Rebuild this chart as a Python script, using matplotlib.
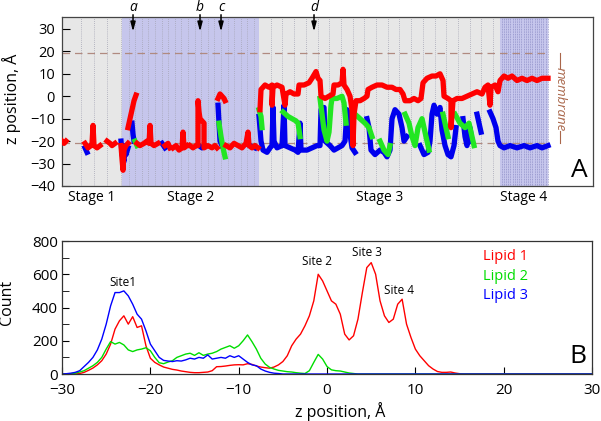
import numpy as np
import matplotlib
matplotlib.use("Agg")
from matplotlib import pyplot as plt
from matplotlib.ticker import MultipleLocator

plt.rcParams['font.family'] = ['Open Sans', 'DejaVu Sans']
nan = np.nan

# ---------------- panel A: z position vs. time (time in arbitrary frame units) ----
stage_names = ["Stage 1", "Stage 2", "Stage 3", "Stage 4"]
stage_edges = [0, 60, 197, 438, 486]
stage_shaded = [False, True, False, True]

events = ["a", "b", "c", "d"]
event_t = [71, 138, 159, 252]

membrane_top, membrane_bottom = 19.3, -21.0

red_t = [0, 2, 4, nan,
         23, 26, 29, 30, 31, 32, 35, 38, nan,
         45, 48, 50, 53, nan,
         59, 60, 61, 62, 64, 66, nan,
         66, 68, 70, 72, 74, nan,
         75, 78, 82, 85, 87, 88, 89, 92, 96, nan,
         103, 106, 108, nan,
         111, 114, 117, 120, 121, 122, 125, nan,
         128, 131, 134, 136, 136, 137, 138, 140, 142, 142, 146, 150, 153, 155, nan,
         156, 158, 160, 162, 163, nan,
         164, 168, 172, 176, 180, 184, 186, 187, 190, 193, 196, nan,
         198, 199, 203, 207, 210, 210, 211, 215, 220, 223, 224, 228, 232, 236, 237, 242,
         247, 250, 254, 256, 258, 259, 263, 267, 271, 272, 276, 280, 281, 282, 285, 288,
         290, 291, 292, 294, 298, 302, 305, 306, 310, 315, 320, 325, 330, 334, 338, 341,
         343, 348, 352, 356, 359, 361, 365, 370, 374, 378, 380, 381, 382, 386, 389, 389,
         391, 395, 400, 405, 410, 415, 420, 423, 426, 428, 429, 433, 436,
         438, 442, 446, 450, 455, 460, 465, 470, 475, 480, 486]
red_z = [-20, -21, -20, nan,
         -21, -23, -22, -21, -13, -22, -23, -22, nan,
         -20, -21, -22, -21, nan,
         -22, -28, -33, -24, -22, -21, nan,
         -14, -10, -6, -2, 0.5, nan,
         -21, -22, -21, -20, -21, -13, -21, -22, -21, nan,
         -22, -21, -23, nan,
         -23, -22, -24, -23, -16, -23, -22, nan,
         -22, -23, -22, -22, -2, -7, -10, -11, -12, -23, -22, -23, -22, -23, nan,
         -1, 1, 0, -1, -2, nan,
         -22, -23, -21, -22, -23, -21, -16, -22, -23, -22, -23, nan,
         -6, 3, 5, 4, 5, -4, 4, 5, 4, -4, 1, 2, 1, 1, 5, 5,
         6, 8, 11, 8, 7, 0, -1, 0, 1, 5, 5, 6, 12, 5, 3, 0,
         -6, -22, -8, -2, -2, -1, 0, 3, 4, 5, 5, 4, 4, 3, 3, 1,
         -2, -2, -1, -2, -1, 6, 8, 9, 9, 10, 8, 7, 0, -1, -2, -14,
         -2, -1, -1, 0, 1, 2, 1, 4, 5, -4, 4, 5, 2,
         7, 9, 8, 9, 7, 8, 7, 8, 7, 8, 8]

green_t = [73, 75, nan,
           157, 159, 161, 163, nan,
           197, 199, 200, nan,
           221, 226, 230, 234, 236, 238, nan,
           258, 260, 262, 265, 267, 269, 270, 275, 280, 282, 284, nan,
           293, 298, 303, 307, 310, nan,
           318, 322, 326, 328, nan,
           343, 347, 350, 353, 356, 360, 364, 367, nan,
           381, 384, 386, nan,
           393, 398, 403, 407, 410, 412]
green_z = [-20, -22, nan,
           -12, -18, -23, -27, nan,
           -6, -9, -14, nan,
           -7, -9, -10, -11, -12, -18, nan,
           -1, -8, -15, -20, -16, -4, -1, -1, 0, -3, -12, nan,
           -8, -10, -12, -14, -18, nan,
           -20, -24, -26, -22, nan,
           -8, -12, -18, -22, -14, -10, -18, -24, nan,
           -8, -14, -18, nan,
           -8, -12, -14, -12, -18, -22]

blue_t = [23, 25, nan,
          59, 60, 62, 63, 64, 66, nan,
          70, 71, 72, nan,
          100, 103, nan,
          137, 140, 143, nan,
          156, 157, 158, 160, nan,
          188, 193, nan,
          197, 199, 201, 205, 208, 210, 211, 212, 215, 220, 222, 223, 228, 233, 236, 238,
          239, 245, 250, 255, 258, 259, 262, 263, 268, 272, 276, 280, 283, 285, 287, 288,
          290, 293, nan,
          305, 307, 309, 313, 318, 322, 325, 328, 330, 333, 337, 340, 342, 345, nan,
          358, 362, 366, 368, 370, 372, 375, 378, 380, 383, 386, 389, 392, 394, nan,
          401, 403, 405, 408, 410, nan,
          415, 417, 419, nan,
          428, 431, 434, 436, 438, 442, 448, 455, 462, 468, 475, 480, 486]
blue_z = [-23, -25, nan,
          -20, -26, -29, -22, -26, -23, nan,
          -12, -17, -20, nan,
          -21, -23, nan,
          -22, -23, -22, nan,
          -4, -12, -20, -22, nan,
          -22, -23, nan,
          -9, -20, -24, -25, -23, -22, -5, -20, -23, -22, -4, -22, -23, -24, -25, -12,
          -24, -24, -23, -22, -22, -6, -5, -20, -22, -24, -23, -22, -20, -6, -10, -17,
          -23, -25, nan,
          -10, -14, -24, -26, -24, -25, -27, -24, -10, -6, -8, -14, -20, -18, nan,
          -22, -26, -25, -20, -8, -4, -8, -5, -15, -22, -26, -27, -22, -14, nan,
          -10, -18, -22, -14, -20, nan,
          -8, -12, -16, nan,
          -7, -10, -14, -20, -22, -23, -22, -23, -22, -23, -22, -23, -22]

# ---------------- panel B: histograms of z position ----
z_bins = np.arange(-30, 30.01, 0.5)
lipid1 = [0, 0, 0, 0, 3, 10, 22, 36, 55, 80, 120, 180, 270, 320, 350, 300, 345, 280, 290, 170,
          95, 70, 55, 42, 35, 28, 24, 18, 14, 10, 8, 8, 10, 12, 20, 44, 45, 48, 52, 55,
          56, 55, 62, 58, 48, 42, 38, 35, 42, 55, 75, 110, 170, 210, 240, 290, 350, 440, 600, 560,
          500, 440, 420, 360, 240, 205, 230, 330, 490, 640, 670, 600, 440, 350, 310, 330, 420, 450, 300, 220,
          150, 110, 80, 50, 30, 15, 10, 10, 12, 6, 2, 0, 0, 0, 0, 0, 0, 0, 0, 0,
          0, 0, 0, 0, 0, 0, 0, 0, 0, 0, 0, 0, 0, 0, 0, 0, 0, 0, 0, 0, 0]
lipid2 = [0, 0, 2, 5, 12, 20, 35, 50, 70, 100, 150, 195, 180, 190, 175, 145, 135, 145, 150, 158,
          140, 100, 68, 62, 72, 80, 100, 110, 120, 125, 112, 128, 112, 120, 125, 135, 150, 160, 170, 155,
          170, 200, 235, 195, 150, 95, 60, 40, 30, 22, 18, 14, 12, 8, 5, 3, 20, 70, 118, 90,
          45, 25, 20, 18, 12, 6, 3, 0, 0, 0, 0, 0, 0, 0, 0, 0, 0, 0, 0, 0,
          0, 0, 0, 0, 0, 0, 0, 0, 0, 0, 0, 0, 0, 0, 0, 0, 0, 0, 0, 0,
          0, 0, 0, 0, 0, 0, 0, 0, 0, 0, 0, 0, 0, 0, 0, 0, 0, 0, 0, 0, 0]
lipid3 = [0, 2, 5, 10, 20, 45, 70, 100, 145, 210, 300, 410, 490, 490, 500, 470, 420, 360, 330, 260,
          180, 140, 100, 82, 78, 75, 80, 78, 85, 95, 90, 100, 95, 115, 90, 95, 100, 95, 110, 100,
          110, 90, 70, 55, 50, 30, 18, 10, 5, 3, 0, 0, 0, 0, 0, 0, 0, 0, 0, 0,
          0, 0, 0, 0, 0, 0, 0, 0, 0, 0, 0, 0, 0, 0, 0, 0, 0, 0, 0, 0,
          0, 0, 0, 0, 0, 0, 0, 0, 0, 0, 0, 0, 0, 0, 0, 0, 0, 0, 0, 0,
          0, 0, 0, 0, 0, 0, 0, 0, 0, 0, 0, 0, 0, 0, 0, 0, 0, 0, 0, 0, 0]
lipid_names = ["Lipid 1", "Lipid 2", "Lipid 3"]
sites = ["Site1", "Site 2", "Site 3", "Site 4"]
site_z = [-23.1, -1.1, 4.5, 8.2]
site_count = [553, 674, 728, 505]

RED, GREEN, BLUE = "#ff0000", "#22e622", "#0000ee"
BROWN = "#a9664a"

fig = plt.figure(figsize=(6.01, 4.21), dpi=100)
ax1 = fig.add_axes([0.1032, 0.5582, 0.8835, 0.4014])
ax2 = fig.add_axes([0.1032, 0.1116, 0.8819, 0.3159])

# --- panel A
ax1.set_xlim(0, 531)
ax1.set_ylim(-40, 35.3)
for i in range(4):
    x0, x1 = stage_edges[i], stage_edges[i + 1]
    ax1.axvspan(x0, x1, color="#c6c6ec" if stage_shaded[i] else "#e7e7e7", lw=0, zorder=0)
    ax1.text((x0 + x1) / 2, -0.068, stage_names[i], transform=ax1.get_xaxis_transform(),
             ha="center", va="center", fontsize=10)

# window separators
win = list(np.arange(19, 60, 13.2)) + list(np.arange(66.6, 197, 6.6)) + \
      list(np.arange(208.7, 438, 11.7))
for t in win:
    ax1.axvline(t, color="#a5a5b5", ls=(0, (1, 1.5)), lw=0.6, zorder=1)
for t in np.arange(439.5, 486, 2.2):
    ax1.axvline(t, color="#8f8fc8", ls=(0, (1, 1)), lw=0.6, zorder=1)

for zm in (membrane_top, membrane_bottom):
    ax1.plot([0, 486], [zm, zm], ls=(0, (6, 4)), color="#b08a80", lw=0.9, zorder=2)

ax1.plot(blue_t, blue_z, color=BLUE, lw=3.8, solid_joinstyle="round", zorder=3)
ax1.plot(green_t, green_z, color=GREEN, lw=3.8, solid_joinstyle="round", zorder=4)
ax1.plot(red_t, red_z, color=RED, lw=3.8, solid_joinstyle="round", zorder=5)

for lab, t in zip(events, event_t):
    ax1.annotate("", xy=(t, 28.8), xytext=(t, 36.3), annotation_clip=False,
                 arrowprops=dict(arrowstyle="-|>,head_length=0.6,head_width=0.16",
                                 color="k", lw=1.1, mutation_scale=9, shrinkA=0, shrinkB=0))
    ax1.text(t, 39.6, lab, style="italic", ha="center", va="center", fontsize=10,
             clip_on=False)

# membrane bracket
ax1.plot([498, 498], [membrane_top, 12.8], color=BROWN, lw=0.8, clip_on=False)
ax1.plot([498, 498], [-15.3, membrane_bottom], color=BROWN, lw=0.8, clip_on=False)
ax1.text(498, -1.3, "membrane", rotation=270, style="italic", color=BROWN,
         ha="center", va="center", fontsize=9.5)

ax1.text(0.99, 0.02, "A", transform=ax1.transAxes, ha="right", va="bottom", fontsize=19)
ax1.set_xticks([])
ax1.set_yticks(range(-40, 31, 10))
ax1.tick_params(axis="y", direction="in", length=6, labelsize=10.5, pad=5)
ax1.set_ylabel("z position, Å", fontsize=11.5)
ax1.yaxis.set_label_coords(-0.078, 0.515)
for s in ax1.spines.values():
    s.set_color("#444444")
    s.set_linewidth(0.9)

# --- panel B
ax2.plot(z_bins, lipid1, color=RED, lw=1.0)
ax2.plot(z_bins, lipid2, color="#00dd00", lw=1.0)
ax2.plot(z_bins, lipid3, color="#0000ff", lw=1.0)
ax2.set_xlim(-30, 30)
ax2.set_ylim(0, 800)
ax2.set_xticks(range(-30, 31, 10))
ax2.yaxis.set_major_locator(MultipleLocator(200))
ax2.yaxis.set_minor_locator(MultipleLocator(100))
ax2.tick_params(which="both", direction="in", length=5, labelsize=11)
ax2.tick_params(axis="y", pad=3)
ax2.tick_params(axis="x", pad=6.5)
ax2.set_xlabel("z position, Å", fontsize=11.5)
ax2.xaxis.set_label_coords(0.524, -0.21)
ax2.set_ylabel("Count", fontsize=11.5)
ax2.yaxis.set_label_coords(-0.088, 0.54)

for name, z, c in zip(sites, site_z, site_count):
    ax2.text(z, c, name, ha="center", va="center", fontsize=8.5)
for name, col, yy in zip(lipid_names, [RED, "#00dd00", "#0000ff"], [0.88, 0.735, 0.59]):
    ax2.text(0.794, yy, name, color=col, transform=ax2.transAxes, fontsize=10.5, va="center")
ax2.text(0.99, 0.035, "B", transform=ax2.transAxes, ha="right", va="bottom", fontsize=19)
for s in ax2.spines.values():
    s.set_color("#333333")
    s.set_linewidth(0.9)

fig.savefig("out.png", dpi=100)
